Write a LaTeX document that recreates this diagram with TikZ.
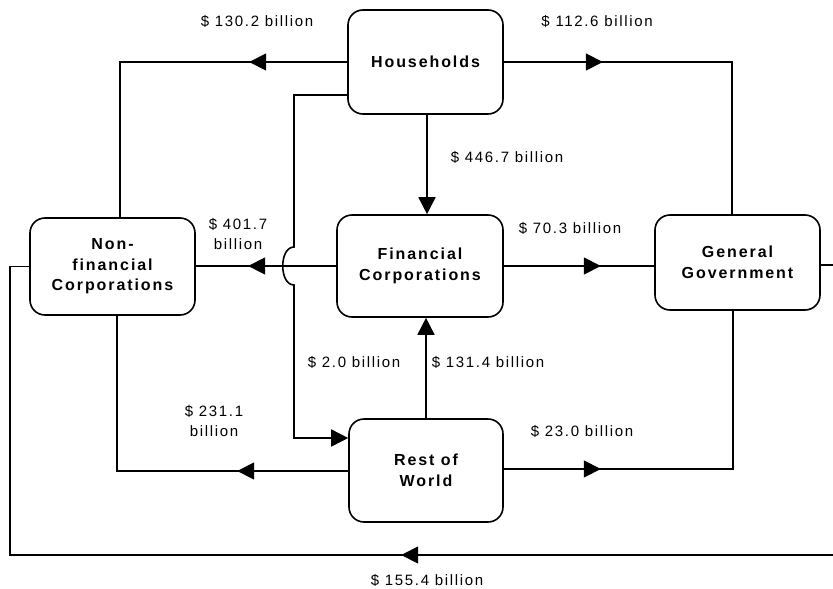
\documentclass[tikz,border=0pt]{standalone}
\usepackage{fontspec}
\setmainfont{Liberation Sans}
\newfontfamily\lblfont[LetterSpace=11]{Liberation Sans}
\newfontfamily\boxfont[LetterSpace=12]{Liberation Sans}
\usetikzlibrary{arrows.meta,decorations.markings,calc}
\tikzset{
  sector/.style={draw, line width=1.6pt, rounded corners=15pt, inner sep=0pt, align=center,
    font=\boxfont\bfseries\fontsize{16}{20.5}\selectfont},
  conn/.style={line width=1.6pt},
  tri/.tip={Triangle[length=17pt,width=17pt]},
  endarrow/.style={conn,-{tri}},
  arrowat/.style={postaction={decorate},
    decoration={markings, mark=at position #1pt with {\arrow{tri}}}},
  amount/.style={font=\lblfont\fontsize{15}{20}\selectfont, align=center, inner sep=0pt}
}
\begin{document}
\begin{tikzpicture}[x=1pt,y=-1pt]
\useasboundingbox (0,0) rectangle (833,589);
\clip (0,0) rectangle (833,589);
\fill[white] (0,0) rectangle (833,589);

% sectors
\node[sector, minimum width=155pt, minimum height=104pt] (H) at (425.5,62) {Households};
\node[sector, minimum width=166pt, minimum height=102pt] (FC) at (420,266) {Financial\\Corporations};
\node[sector, minimum width=154pt, minimum height=103pt] (RW) at (426,470.5) {Rest of\\World};
\node[sector, minimum width=165pt, minimum height=97pt] (NF) at (112.5,266.5) {Non-\\financial\\Corporations};
\node[sector, minimum width=165pt, minimum height=95pt] (GG) at (737.5,262.5) {General\\Government};

% helper coordinates
\coordinate (hopT) at (294,247);
\coordinate (hopB) at (294,285);
\coordinate (loopR) at (845,555);
\coordinate (loopL) at (10,555);

% connectors
\draw[conn, arrowat=98] (H.west) -| ([xshift=7.5pt]NF.north);
\draw[conn, arrowat=99] (H.east) -| ([xshift=-5.5pt]GG.north);
\draw[endarrow] ([xshift=1.5pt]H.south) -- ([xshift=1.5pt]H.south |- FC.north);
\draw[endarrow] ([yshift=-33pt]H.west) -| (hopT)
   .. controls +(-15,0) and +(-15,0) .. (hopB) |- ([yshift=32.5pt]RW.west);
\draw[conn, arrowat=88] (FC.west) -- (FC.west -| NF.east);
\draw[conn, arrowat=97] (FC.east) -- (FC.east -| GG.west);
\draw[endarrow] (RW.north) -- (RW.north |- FC.south);
\draw[conn, arrowat=111] ([yshift=-0.5pt]RW.west) -| ([xshift=4.5pt]NF.south);
\draw[conn, arrowat=97] ([yshift=1.5pt]RW.east) -| ([xshift=-4.5pt]GG.south);
\draw[conn, arrowat=758] ([yshift=-2.5pt]GG.east) -| (loopR) -- (loopL) |- (NF.west);

% amounts
\node[amount] (a1) at (257,21) {\$ 130.2 billion};
\node[amount] (a2) at (597,21) {\$ 112.6 billion};
\node[amount] (a3) at (507,157) {\$ 446.7 billion};
\node[amount] (a4) at (238,234) {\$ 401.7\\billion};
\node[amount] (a5) at (570,228) {\$ 70.3 billion};
\node[amount] (a6) at (354,362) {\$ 2.0 billion};
\node[amount] (a7) at (488,362) {\$ 131.4 billion};
\node[amount] (a8) at (214,421) {\$ 231.1\\billion};
\node[amount] (a9) at (582,431) {\$ 23.0 billion};
\node[amount] (a10) at (427,580) {\$ 155.4 billion};
\end{tikzpicture}
\end{document}
